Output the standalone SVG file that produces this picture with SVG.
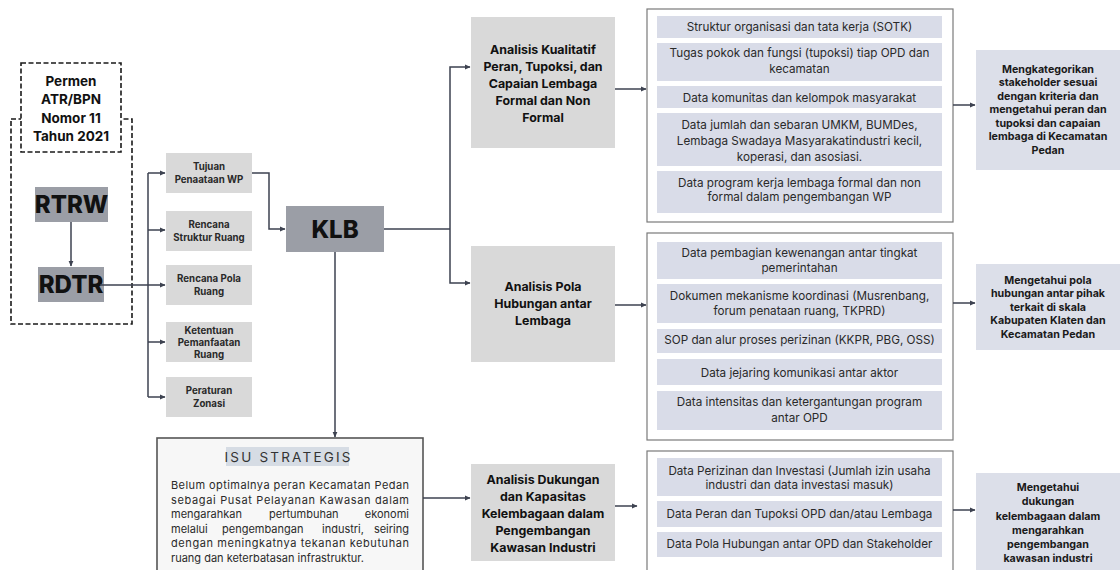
<svg xmlns="http://www.w3.org/2000/svg" width="1120" height="570" viewBox="0 0 1120 570">
  <defs>
    <marker id="ah" markerWidth="6" markerHeight="6" refX="5" refY="3" orient="auto" markerUnits="userSpaceOnUse">
      <path d="M0,0.6 L5.5,3 L0,5.4 Z" fill="#3d4250"/>
    </marker>
    <style>
      .dash { fill: #ffffff; stroke: #1a1a1a; stroke-width: 1.6; stroke-dasharray: 5 2.5; }
      .dashbg { fill: none; stroke: #1a1a1a; stroke-width: 1.6; stroke-dasharray: 5 2.5; }
      .dark { fill: #9b9ea6; }
      .lg { fill: #d9d9d9; }
      .frame { fill: #ffffff; stroke: #7a7a7a; stroke-width: 1.2; }
      .item { fill: #d9dce8; }
      .res { fill: #dcdfe9; }
      .conn { fill: none; stroke: #3d4250; stroke-width: 1.5; }
      .big { font-family: "Inter", "Open Sans", sans-serif; font-weight: 800; font-size: 24px; fill: #111111; text-anchor: middle; }
      .permen { font-family: "Inter", "Open Sans", sans-serif; font-weight: 700; font-size: 13.5px; fill: #111111; text-anchor: middle; }
      .sm { font-family: "Inter", "Open Sans", sans-serif; font-weight: 700; font-size: 9.7px; fill: #2a2a2a; text-anchor: middle; }
      .ana { font-family: "Inter", "Open Sans", sans-serif; font-weight: 700; font-size: 12.4px; fill: #111111; text-anchor: middle; }
      .dat { font-family: "Inter", "Open Sans", sans-serif; font-weight: 400; font-size: 11.7px; fill: #2a2a2a; text-anchor: middle; }
      .rt { font-family: "Inter", "Open Sans", sans-serif; font-weight: 700; font-size: 10.7px; fill: #1a1a1a; text-anchor: middle; }
      .isuh { font-family: "Inter", "Open Sans", sans-serif; font-weight: 400; font-size: 13.5px; letter-spacing: 2.2px; fill: #333333; text-anchor: middle; }
      .body { font-family: "Inter", "Open Sans", sans-serif; font-weight: 400; font-size: 11px; fill: #2a2a2a; }
      .end { text-anchor: end; }
    </style>
  </defs>

  <rect width="1120" height="570" fill="#ffffff"/>

  <!-- regulation frame and planning documents -->
  <g id="dokumen-rencana">
    <rect class="dashbg" x="11" y="119" width="121" height="205"/>
  </g>
  <g id="permen">
    <rect class="dash" x="21" y="63" width="100" height="89"/>
    <text class="permen" x="71" y="86">Permen</text>
    <text class="permen" x="71" y="104">ATR/BPN</text>
    <text class="permen" x="71" y="123">Nomor 11</text>
    <text class="permen" x="71" y="141">Tahun 2021</text>
  </g>
  <g id="rtrw">
    <rect class="dark" x="35" y="187" width="73" height="35"/>
    <text class="big" x="71.5" y="213">RTRW</text>
  </g>
  <g id="rdtr">
    <rect class="dark" x="38" y="267" width="66" height="35"/>
    <text class="big" x="71" y="293">RDTR</text>
  </g>

  <!-- RDTR content items -->
  <g id="tujuan">
    <rect class="lg" x="166" y="153" width="86" height="40"/>
    <text class="sm" x="209" y="170">Tujuan</text>
    <text class="sm" x="209" y="182.5">Penaataan WP</text>
  </g>
  <g id="struktur">
    <rect class="lg" x="166" y="211" width="86" height="40"/>
    <text class="sm" x="209" y="228">Rencana</text>
    <text class="sm" x="209" y="240.5">Struktur Ruang</text>
  </g>
  <g id="pola">
    <rect class="lg" x="166" y="265" width="86" height="40"/>
    <text class="sm" x="209" y="282">Rencana Pola</text>
    <text class="sm" x="209" y="294.5">Ruang</text>
  </g>
  <g id="ketentuan">
    <rect class="lg" x="166" y="322" width="86" height="40"/>
    <text class="sm" x="209" y="333.5">Ketentuan</text>
    <text class="sm" x="209" y="345.5">Pemanfaatan</text>
    <text class="sm" x="209" y="357.5">Ruang</text>
  </g>
  <g id="zonasi">
    <rect class="lg" x="166" y="377" width="86" height="40"/>
    <text class="sm" x="209" y="394">Peraturan</text>
    <text class="sm" x="209" y="406.5">Zonasi</text>
  </g>

  <g id="klb">
    <rect class="dark" x="286" y="206" width="98" height="46"/>
    <text class="big" x="335" y="238">KLB</text>
  </g>

  <g id="isu-strategis">
    <rect x="157" y="438" width="266" height="140" fill="#f7f7f7" stroke="#555555" stroke-width="1.6"/>
    <rect x="226" y="447" width="123" height="19" fill="#d6dce4"/>
    <text class="isuh" x="288.6" y="461.5">ISU STRATEGIS</text>
    <text class="body" x="171" y="489" textLength="238" lengthAdjust="spacing">Belum optimalnya peran Kecamatan Pedan</text>
    <text class="body" x="171" y="503.5" textLength="238" lengthAdjust="spacing">sebagai Pusat Pelayanan Kawasan dalam</text>
    <text class="body" y="518"><tspan x="171">mengarahkan</tspan><tspan x="269">pertumbuhan</tspan><tspan class="end" x="409" text-anchor="end">ekonomi</tspan></text>
    <text class="body" y="532.5"><tspan x="171">melalui</tspan><tspan x="222">pengembangan</tspan><tspan x="322">industri,</tspan><tspan x="409" text-anchor="end">seiring</tspan></text>
    <text class="body" x="171" y="547" textLength="238" lengthAdjust="spacing">dengan meningkatnya tekanan kebutuhan</text>
    <text class="body" x="171" y="561.5">ruang dan keterbatasan infrastruktur.</text>
  </g>

  <!-- analyses -->
  <g id="analisis-kualitatif">
    <rect class="lg" x="471" y="17" width="144" height="131"/>
    <text class="ana" x="543" y="54">Analisis Kualitatif</text>
    <text class="ana" x="543" y="71">Peran, Tupoksi, dan</text>
    <text class="ana" x="543" y="88">Capaian Lembaga</text>
    <text class="ana" x="543" y="105">Formal dan Non</text>
    <text class="ana" x="543" y="122">Formal</text>
  </g>
  <g id="analisis-pola">
    <rect class="lg" x="471" y="246" width="144" height="116"/>
    <text class="ana" x="543" y="291">Analisis Pola</text>
    <text class="ana" x="543" y="308">Hubungan antar</text>
    <text class="ana" x="543" y="325">Lembaga</text>
  </g>
  <g id="analisis-dukungan">
    <rect class="lg" x="471" y="464" width="144" height="97"/>
    <text class="ana" x="543" y="484">Analisis Dukungan</text>
    <text class="ana" x="543" y="501">dan Kapasitas</text>
    <text class="ana" x="543" y="518">Kelembagaan dalam</text>
    <text class="ana" x="543" y="535">Pengembangan</text>
    <text class="ana" x="543" y="552">Kawasan Industri</text>
  </g>

  <!-- data requirements -->
  <g id="data-kualitatif">
    <rect class="frame" x="647" y="9" width="306" height="213"/>
    <rect class="item" x="657" y="16" width="285" height="22"/>
    <text class="dat" x="799.5" y="31">Struktur organisasi dan tata kerja (SOTK)</text>
    <rect class="item" x="657" y="43" width="285" height="38"/>
    <text class="dat" x="799.5" y="57">Tugas pokok dan fungsi (tupoksi) tiap OPD dan</text>
    <text class="dat" x="799.5" y="73">kecamatan</text>
    <rect class="item" x="657" y="86" width="285" height="22"/>
    <text class="dat" x="799.5" y="102">Data komunitas dan kelompok masyarakat</text>
    <rect class="item" x="657" y="113" width="285" height="53"/>
    <text class="dat" x="799.5" y="129">Data jumlah dan sebaran UMKM, BUMDes,</text>
    <text class="dat" x="799.5" y="145">Lembaga Swadaya Masyarakatindustri kecil,</text>
    <text class="dat" x="799.5" y="161">koperasi, dan asosiasi.</text>
    <rect class="item" x="657" y="171" width="285" height="42"/>
    <text class="dat" x="799.5" y="187">Data program kerja lembaga formal dan non</text>
    <text class="dat" x="799.5" y="201">formal dalam pengembangan WP</text>
  </g>
  <g id="data-pola">
    <rect class="frame" x="647" y="233" width="306" height="207"/>
    <rect class="item" x="657" y="242" width="285" height="37"/>
    <text class="dat" x="799.5" y="257">Data pembagian kewenangan antar tingkat</text>
    <text class="dat" x="799.5" y="272">pemerintahan</text>
    <rect class="item" x="657" y="284" width="285" height="39"/>
    <text class="dat" x="799.5" y="300">Dokumen mekanisme koordinasi (Musrenbang,</text>
    <text class="dat" x="799.5" y="315">forum penataan ruang, TKPRD)</text>
    <rect class="item" x="657" y="329" width="285" height="24"/>
    <text class="dat" x="799.5" y="344">SOP dan alur proses perizinan (KKPR, PBG, OSS)</text>
    <rect class="item" x="657" y="359" width="285" height="26"/>
    <text class="dat" x="799.5" y="377">Data jejaring komunikasi antar aktor</text>
    <rect class="item" x="657" y="391" width="285" height="39"/>
    <text class="dat" x="799.5" y="406">Data intensitas dan ketergantungan program</text>
    <text class="dat" x="799.5" y="422">antar OPD</text>
  </g>
  <g id="data-dukungan">
    <rect class="frame" x="647" y="451" width="306" height="130"/>
    <rect class="item" x="657" y="458" width="285" height="38"/>
    <text class="dat" x="799.5" y="475">Data Perizinan dan Investasi (Jumlah izin usaha</text>
    <text class="dat" x="799.5" y="489">industri dan data investasi masuk)</text>
    <rect class="item" x="657" y="501" width="285" height="26"/>
    <text class="dat" x="799.5" y="518">Data Peran dan Tupoksi OPD dan/atau Lembaga</text>
    <rect class="item" x="657" y="532" width="285" height="25"/>
    <text class="dat" x="799.5" y="548">Data Pola Hubungan antar OPD dan Stakeholder</text>
  </g>

  <!-- outcomes -->
  <g id="hasil-1">
    <rect class="res" x="976" y="50" width="144" height="120"/>
    <text class="rt" x="1048" y="72.5">Mengkategorikan</text>
    <text class="rt" x="1048" y="86">stakeholder sesuai</text>
    <text class="rt" x="1048" y="99.5">dengan kriteria dan</text>
    <text class="rt" x="1048" y="113">mengetahui peran dan</text>
    <text class="rt" x="1048" y="126.5">tupoksi dan capaian</text>
    <text class="rt" x="1048" y="140">lembaga di Kecamatan</text>
    <text class="rt" x="1048" y="153.5">Pedan</text>
  </g>
  <g id="hasil-2">
    <rect class="res" x="976" y="264" width="144" height="86"/>
    <text class="rt" x="1048" y="283.5">Mengetahui pola</text>
    <text class="rt" x="1048" y="297">hubungan antar pihak</text>
    <text class="rt" x="1048" y="310.5">terkait di skala</text>
    <text class="rt" x="1048" y="324">Kabupaten Klaten dan</text>
    <text class="rt" x="1048" y="337.5">Kecamatan Pedan</text>
  </g>
  <g id="hasil-3">
    <rect class="res" x="976" y="473" width="144" height="100"/>
    <text class="rt" x="1048" y="490.5">Mengetahui</text>
    <text class="rt" x="1048" y="505">dukungan</text>
    <text class="rt" x="1048" y="519.5">kelembagaan dalam</text>
    <text class="rt" x="1048" y="534">mengarahkan</text>
    <text class="rt" x="1048" y="548">pengembangan</text>
    <text class="rt" x="1048" y="562">kawasan industri</text>
  </g>

  <!-- connectors -->
  <g id="connectors">
    <path class="conn" d="M71,222 V266" marker-end="url(#ah)"/>
    <path class="conn" d="M100,285 H165" marker-end="url(#ah)"/>
    <path class="conn" d="M148,173 V397"/>
    <path class="conn" d="M148,173 H165" marker-end="url(#ah)"/>
    <path class="conn" d="M148,230 H165" marker-end="url(#ah)"/>
    <path class="conn" d="M148,342 H165" marker-end="url(#ah)"/>
    <path class="conn" d="M148,397 H165" marker-end="url(#ah)"/>
    <path class="conn" d="M252,173 H269 V229 H285" marker-end="url(#ah)"/>
    <path class="conn" d="M384,229 H450"/>
    <path class="conn" d="M450,229 V67 H470" marker-end="url(#ah)"/>
    <path class="conn" d="M450,229 V283 H470" marker-end="url(#ah)"/>
    <path class="conn" d="M335,252 V437" marker-end="url(#ah)"/>
    <path class="conn" d="M423,498 H470" marker-end="url(#ah)"/>
    <path class="conn" d="M615,89 H646" marker-end="url(#ah)"/>
    <path class="conn" d="M615,305 H646" marker-end="url(#ah)"/>
    <path class="conn" d="M615,506 H637" marker-end="url(#ah)"/>
    <path class="conn" d="M953,105 H975" marker-end="url(#ah)"/>
    <path class="conn" d="M953,303 H975" marker-end="url(#ah)"/>
    <path class="conn" d="M953,510 H975" marker-end="url(#ah)"/>
  </g>
</svg>
